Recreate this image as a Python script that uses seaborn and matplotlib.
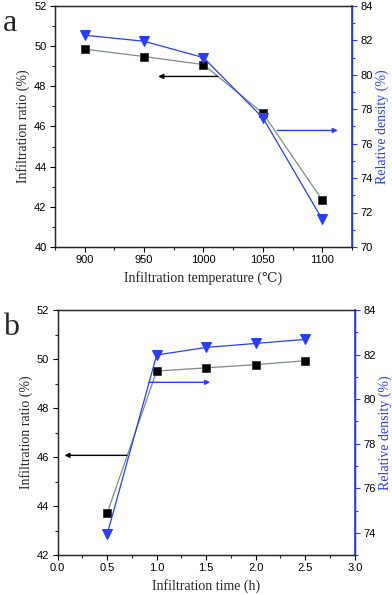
import numpy as np
import pandas as pd
import matplotlib
matplotlib.use("Agg")
import matplotlib.pyplot as plt
import seaborn as sns
from matplotlib.ticker import MultipleLocator

# ---- data ----
temp_c = [900, 950, 1000, 1050, 1100]
ratio_a = [49.85, 49.48, 49.08, 46.66, 42.33]
density_a = [82.3, 81.95, 81.0, 77.5, 71.6]

time_h = [0.5, 1.0, 1.5, 2.0, 2.5]
ratio_b = [43.71, 49.51, 49.64, 49.77, 49.93]
density_b = [73.93, 81.98, 82.32, 82.5, 82.68]

sns.set_style("ticks")
plt.rcParams['font.family'] = ['Liberation Sans', 'DejaVu Sans']
SERIF = ['Liberation Serif', 'DejaVu Serif', 'Noto Sans CJK SC', 'DejaVu Sans']

BLUE = '#2b3bff'
GRAY = '#7f8c8c'

fig = plt.figure(figsize=(3.92, 5.95), dpi=100)

def style_axes(ax, ax2):
    for a in (ax, ax2):
        a.tick_params(axis='both', which='major', direction='out', length=3.5, width=0.8,
                      labelsize=8, colors='black', pad=2.5)
        a.tick_params(axis='both', which='minor', direction='out', length=2, width=0.8)
    for s in ax.spines.values():
        s.set_linewidth(1.0)
        s.set_visible(True)
    ax2.spines['right'].set_color(BLUE)
    ax2.spines['right'].set_linewidth(1.2)
    ax2.tick_params(axis='y', which='both', color=BLUE, labelcolor='black')
    ax.tick_params(axis='x', which='both', top=False)

def panel(rect, x, r, d, xlim, ylim_l, ylim_r, xmaj, xmin, xlabel, letter, arrows, xfmt):
    ax = fig.add_axes(rect)
    df = pd.DataFrame({'x': x, 'ratio': r, 'density': d})
    sns.lineplot(data=df, x='x', y='ratio', ax=ax, color=GRAY, lw=0.9,
                 marker='s', markersize=6, markerfacecolor='black', markeredgecolor='#333333',
                 markeredgewidth=0.6, zorder=3)
    ax2 = ax.twinx()
    sns.lineplot(data=df, x='x', y='density', ax=ax2, color=BLUE, lw=0.9,
                 marker='v', markersize=7, markerfacecolor=BLUE, markeredgecolor=BLUE, zorder=3)
    ax.set_xlim(*xlim)
    ax.set_ylim(*ylim_l)
    ax2.set_ylim(*ylim_r)
    ax.xaxis.set_major_locator(MultipleLocator(xmaj))
    ax.xaxis.set_minor_locator(MultipleLocator(xmin))
    ax.yaxis.set_major_locator(MultipleLocator(2))
    ax.yaxis.set_minor_locator(MultipleLocator(1))
    ax2.yaxis.set_major_locator(MultipleLocator(2))
    ax2.yaxis.set_minor_locator(MultipleLocator(1))
    if xfmt:
        ax.xaxis.set_major_formatter(plt.FormatStrFormatter(xfmt))
    ax.set_xlabel(xlabel, family=SERIF, fontsize=10, labelpad=4)
    ax.set_ylabel('Infiltration ratio (%)', family=SERIF, fontsize=10, labelpad=3)
    ax2.set_ylabel('Relative density (%)', family=SERIF, fontsize=10, color=BLUE, labelpad=2)
    style_axes(ax, ax2)
    for (x0, x1, yv, col) in arrows:
        ax.annotate('', xy=(x1, yv), xytext=(x0, yv),
                    arrowprops=dict(arrowstyle='-|>', color=col, lw=1.0,
                                    mutation_scale=7, shrinkA=0, shrinkB=0))
    fig.text(0.008, rect[1] + rect[3] - 0.005, letter, family=SERIF, fontsize=23,
             va='top', ha='left')
    return ax, ax2

panel([0.140, 0.585, 0.758, 0.405], temp_c, ratio_a, density_a,
      (875, 1125), (40, 52), (70, 84), 50, 25,
      'Infiltration temperature (\u2103)', 'a',
      [(1012, 962, 48.49, 'black'), (1062, 1113, 45.8, BLUE)], None)

panel([0.147, 0.067, 0.758, 0.412], time_h, ratio_b, density_b,
      (0, 3.0), (42, 52), (73, 84), 0.5, 0.25,
      'Infiltration time (h)', 'b',
      [(0.70, 0.07, 46.07, 'black'), (0.92, 1.54, 49.05, BLUE)], '%.1f')

fig.savefig('out.png', dpi=100)
